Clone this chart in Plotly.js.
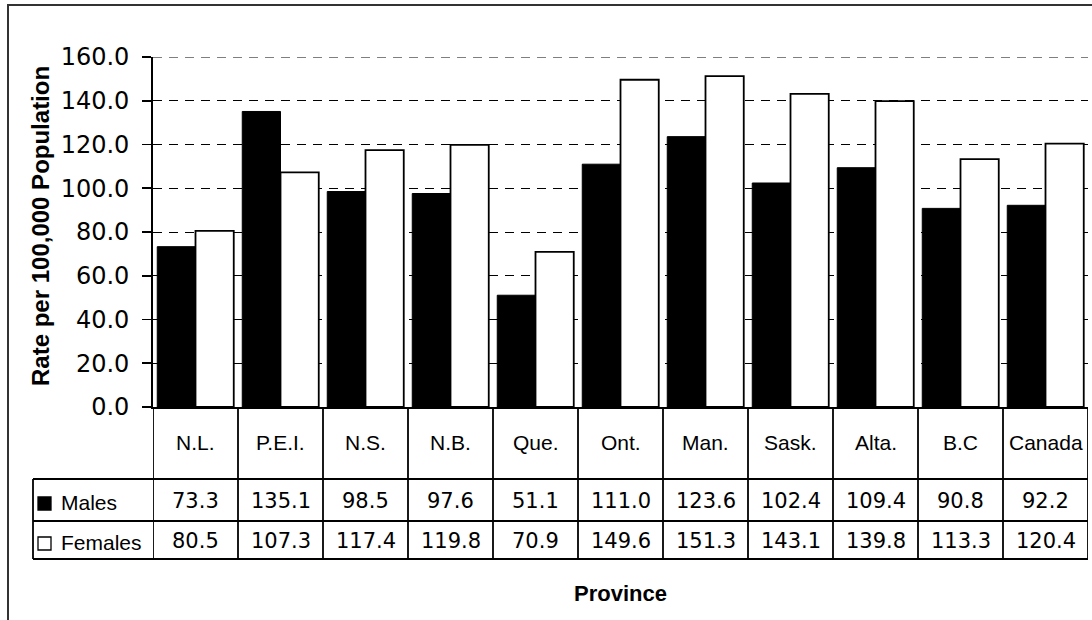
<!DOCTYPE html>
<html>
<head>
<meta charset="utf-8">
<script src="https://cdn.plot.ly/plotly-3.0.1.min.js"></script>
<style>
  html, body { margin: 0; padding: 0; background: #ffffff; }
  #chart { width: 1092px; height: 620px; }
</style>
</head>
<body>
<div id="chart"></div>
<script>
// Rates per 100,000 population by province and sex
const categories = ['N.L.', 'P.E.I.', 'N.S.', 'N.B.', 'Que.', 'Ont.', 'Man.', 'Sask.', 'Alta.', 'B.C', 'Canada'];
const males = [73.3, 135.1, 98.5, 97.6, 51.1, 111.0, 123.6, 102.4, 109.4, 90.8, 92.2];
const females = [80.5, 107.3, 117.4, 119.8, 70.9, 149.6, 151.3, 143.1, 139.8, 113.3, 120.4];
const seriesNames = ['Males', 'Females'];
const yTicks = [0, 20, 40, 60, 80, 100, 120, 140, 160];
const yMax = 160;

// Page geometry (pixels)
const W = 1092, H = 620;
const PL = 153, PR = 1088, PT = 57, PB = 407;
const pw = PR - PL, ph = PB - PT;
const px = x => (x - PL) / pw;          // pixel x -> paper x
const py = y => (PB - y) / ph;          // pixel y -> paper y

const WORD_FONT = 'Liberation Sans, Arial, sans-serif';
const NUM_FONT = 'DejaVu Sans, Verdana, sans-serif';
const LINE = '#000000';
const LW = 1.8;
const GRID_DASH = '9px,7px';

// Data-table rows below the plot
const rowHeaderBottom = 479, rowMalesBottom = 521, rowFemalesBottom = 559;
const legendLeft = 33;

const traces = [
  {
    type: 'bar', name: seriesNames[0], x: categories, y: males,
    marker: { color: '#000000', line: { color: '#000000', width: 1 } },
    hoverinfo: 'x+y'
  },
  {
    type: 'bar', name: seriesNames[1], x: categories, y: females,
    marker: { color: '#ffffff', line: { color: '#000000', width: LW } },
    hoverinfo: 'x+y'
  }
];

const shapes = [];
const annotations = [];

// Outer frame
shapes.push({
  type: 'rect', xref: 'paper', yref: 'paper',
  x0: px(8), x1: px(1110), y0: py(5), y1: py(660),
  line: { color: '#333333', width: 2 }, fillcolor: 'rgba(0,0,0,0)', layer: 'below'
});

// Top grid line sits on the plot edge, so draw it explicitly
shapes.push({
  type: 'line', xref: 'paper', yref: 'y', x0: 0, x1: 1, y0: yMax, y1: yMax,
  line: { color: '#000000', width: 1, dash: GRID_DASH }, layer: 'below'
});

// Horizontal table rules
[rowHeaderBottom, rowMalesBottom, rowFemalesBottom].forEach(yy => {
  shapes.push({
    type: 'line', xref: 'paper', yref: 'paper',
    x0: px(legendLeft), x1: 1, y0: py(yy), y1: py(yy),
    line: { color: LINE, width: LW }
  });
});
// Left edge of the legend column
shapes.push({
  type: 'line', xref: 'paper', yref: 'paper',
  x0: px(legendLeft), x1: px(legendLeft), y0: py(rowHeaderBottom), y1: py(rowFemalesBottom),
  line: { color: LINE, width: LW }
});
// Column dividers at category boundaries
for (let i = 0; i <= categories.length; i++) {
  shapes.push({
    type: 'line', xref: 'x', yref: 'paper',
    x0: i - 0.5, x1: i - 0.5, y0: 0, y1: py(rowFemalesBottom),
    line: { color: LINE, width: LW }
  });
}

// Legend keys in the table
const keyRows = [
  { name: seriesNames[0], fill: '#000000', top: 497, bottom: 510, text: 502 },
  { name: seriesNames[1], fill: '#ffffff', top: 537, bottom: 550, text: 542 }
];
keyRows.forEach(k => {
  shapes.push({
    type: 'rect', xref: 'paper', yref: 'paper',
    x0: px(38), x1: px(51), y0: py(k.bottom), y1: py(k.top),
    fillcolor: k.fill, line: { color: '#000000', width: 1.3 }
  });
  annotations.push({
    xref: 'paper', yref: 'paper', x: px(59), y: py(k.text),
    xanchor: 'left', yanchor: 'middle', text: k.name, showarrow: false,
    font: { family: WORD_FONT, size: 21, color: '#000000' }
  });
});

// Category headers and values
categories.forEach((c, i) => {
  annotations.push({
    xref: 'x', yref: 'paper', x: c, y: py(443),
    xanchor: 'center', yanchor: 'middle', text: c, showarrow: false,
    font: { family: WORD_FONT, size: 21, color: '#000000' }
  });
  annotations.push({
    xref: 'x', yref: 'paper', x: c, y: py(501),
    xanchor: 'center', yanchor: 'middle', text: males[i].toFixed(1), showarrow: false,
    font: { family: NUM_FONT, size: 21, color: '#000000' }
  });
  annotations.push({
    xref: 'x', yref: 'paper', x: c, y: py(541),
    xanchor: 'center', yanchor: 'middle', text: females[i].toFixed(1), showarrow: false,
    font: { family: NUM_FONT, size: 21, color: '#000000' }
  });
});

// Axis titles
annotations.push({
  xref: 'paper', yref: 'paper', x: px(40), y: py(226),
  xanchor: 'center', yanchor: 'middle', textangle: -90,
  text: '<b>Rate per 100,000 Population</b>', showarrow: false,
  font: { family: WORD_FONT, size: 24, color: '#000000' }
});
annotations.push({
  xref: 'paper', yref: 'paper', x: px(620), y: py(593),
  xanchor: 'center', yanchor: 'middle',
  text: '<b>Province</b>', showarrow: false,
  font: { family: WORD_FONT, size: 22, color: '#000000' }
});

const layout = {
  width: W, height: H,
  margin: { l: PL, r: W - PR, t: PT, b: H - PB, pad: 0 },
  paper_bgcolor: '#ffffff', plot_bgcolor: '#ffffff',
  showlegend: false,
  barmode: 'group', bargap: 0.1, bargroupgap: 0,
  xaxis: {
    type: 'category', range: [-0.5, categories.length - 0.5],
    showticklabels: false, ticks: '', showgrid: false, zeroline: false,
    showline: true, linecolor: LINE, linewidth: LW, fixedrange: true
  },
  yaxis: {
    range: [0, yMax], tickvals: yTicks, ticktext: yTicks.map(v => v.toFixed(1)),
    ticks: 'outside', ticklen: 9, tickwidth: LW, tickcolor: LINE,
    ticklabelstandoff: 8,
    tickfont: { family: NUM_FONT, size: 24, color: '#000000' },
    showline: true, linecolor: LINE, linewidth: LW,
    showgrid: true, gridcolor: '#000000', gridwidth: 1, griddash: GRID_DASH,
    zeroline: false, fixedrange: true
  },
  shapes: shapes,
  annotations: annotations
};

Plotly.newPlot('chart', traces, layout, { displayModeBar: false, staticPlot: true });
</script>
</body>
</html>
